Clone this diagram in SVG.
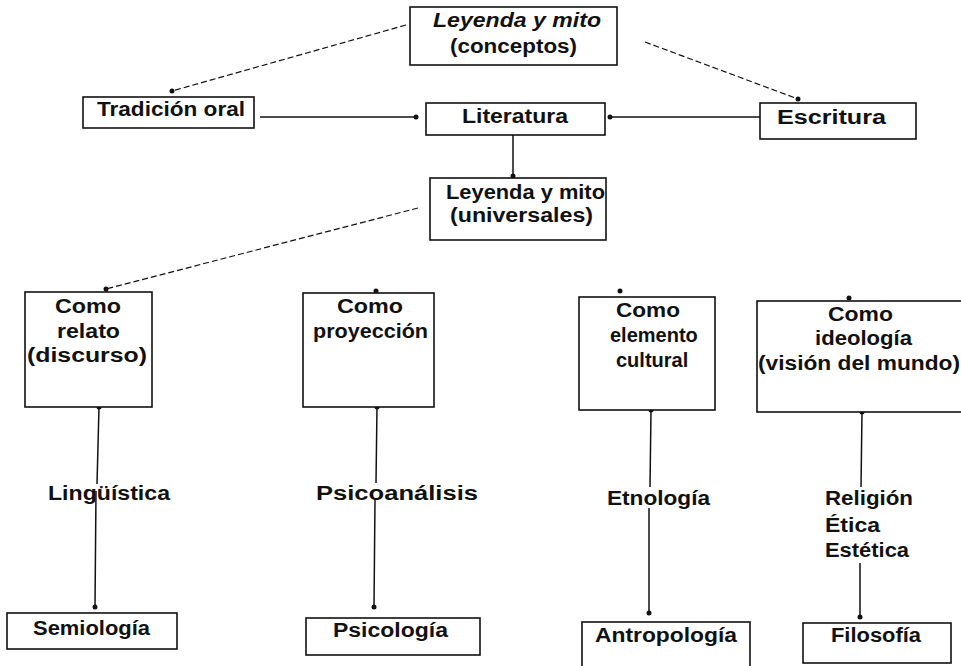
<svg xmlns="http://www.w3.org/2000/svg" width="961" height="666" viewBox="0 0 961 666">
<style>
.box{fill:#fff;stroke:#111;stroke-width:1.6}
.t{font-family:"Liberation Sans",Arial,sans-serif;font-weight:bold;font-size:20px;fill:#111}
.it{font-style:italic}
.sol{stroke:#111;stroke-width:1.5;fill:none}
.dash{stroke:#111;stroke-width:1.2;fill:none;stroke-dasharray:6 3}
.dot{fill:#111}
</style>
<rect width="961" height="666" fill="#fff"/>
<g id="connectors">
<path class="dash" d="M406,25 L172,91"/>
<path class="dash" d="M645,42 L798,99"/>
<path class="sol" d="M260,117 L416,117"/>
<path class="sol" d="M760,117 L610,117"/>
<path class="sol" d="M513,135 L513,176"/>
<path class="dash" d="M418,208 L106,289"/>
<path class="sol" d="M99,407 L97,484 M96,491 L95,607"/>
<path class="sol" d="M377,407 L376,483 M375,500 L374,607"/>
<path class="sol" d="M651,410 L650,487 M649,508 L649,613"/>
<path class="sol" d="M862,412 L861,487 M860,563 L860,617"/>
<circle class="dot" cx="172" cy="91" r="2.5"/>
<circle class="dot" cx="798" cy="99" r="2.5"/>
<circle class="dot" cx="416" cy="117" r="2.5"/>
<circle class="dot" cx="610" cy="117" r="2.5"/>
<circle class="dot" cx="513" cy="176" r="2.5"/>
<circle class="dot" cx="106" cy="289" r="2.5"/>
<circle class="dot" cx="376" cy="291" r="2.5"/>
<circle class="dot" cx="620" cy="291" r="2.5"/>
<circle class="dot" cx="849" cy="298" r="2.5"/>
<circle class="dot" cx="99" cy="407" r="2.5"/>
<circle class="dot" cx="377" cy="407" r="2.5"/>
<circle class="dot" cx="651" cy="410" r="2.5"/>
<circle class="dot" cx="862" cy="412" r="2.5"/>
<circle class="dot" cx="95" cy="607" r="2.5"/>
<circle class="dot" cx="374" cy="607" r="2.5"/>
<circle class="dot" cx="649" cy="613" r="2.5"/>
<circle class="dot" cx="860" cy="617" r="2.5"/>
</g>
<g id="n-conceptos">
<rect class="box" x="410" y="7" width="207" height="58"/>
<text class="t it" x="433" y="27" textLength="168" lengthAdjust="spacingAndGlyphs">Leyenda y mito</text>
<text class="t" x="450" y="53" textLength="127" lengthAdjust="spacingAndGlyphs">(conceptos)</text>
</g>
<g id="n-tradicion">
<rect class="box" x="83" y="97" width="171" height="31"/>
<text class="t" x="97" y="116" textLength="148" lengthAdjust="spacingAndGlyphs">Tradición oral</text>
</g>
<g id="n-literatura">
<rect class="box" x="426" y="103" width="179" height="32"/>
<text class="t" x="462" y="123" textLength="106" lengthAdjust="spacingAndGlyphs">Literatura</text>
</g>
<g id="n-escritura">
<rect class="box" x="760" y="103" width="156" height="36"/>
<text class="t" x="777" y="124" textLength="109" lengthAdjust="spacingAndGlyphs">Escritura</text>
</g>
<g id="n-universales">
<rect class="box" x="430" y="178" width="176" height="62"/>
<text class="t" x="446" y="199" textLength="159" lengthAdjust="spacingAndGlyphs">Leyenda y mito</text>
<text class="t" x="450" y="222" textLength="143" lengthAdjust="spacingAndGlyphs">(universales)</text>
</g>
<g id="n-relato">
<rect class="box" x="25" y="292" width="127" height="115"/>
<text class="t" x="55" y="313" textLength="66" lengthAdjust="spacingAndGlyphs">Como</text>
<text class="t" x="57" y="338" textLength="63" lengthAdjust="spacingAndGlyphs">relato</text>
<text class="t" x="27" y="362" textLength="120" lengthAdjust="spacingAndGlyphs">(discurso)</text>
</g>
<g id="n-proyeccion">
<rect class="box" x="303" y="293" width="131" height="114"/>
<text class="t" x="337" y="313" textLength="66" lengthAdjust="spacingAndGlyphs">Como</text>
<text class="t" x="313" y="338" textLength="115" lengthAdjust="spacingAndGlyphs">proyección</text>
</g>
<g id="n-cultural">
<rect class="box" x="579" y="297" width="136" height="113"/>
<text class="t" x="616" y="317" textLength="64" lengthAdjust="spacingAndGlyphs">Como</text>
<text class="t" x="610" y="342">elemento</text>
<text class="t" x="616" y="367">cultural</text>
</g>
<g id="n-ideologia">
<rect class="box" x="757" y="301" width="210" height="111"/>
<text class="t" x="828" y="321" textLength="65" lengthAdjust="spacingAndGlyphs">Como</text>
<text class="t" x="815" y="345" textLength="97" lengthAdjust="spacingAndGlyphs">ideología</text>
<text class="t" x="758" y="370" textLength="202" lengthAdjust="spacingAndGlyphs">(visión del mundo)</text>
</g>
<g id="l-linguistica">
<text class="t" x="48" y="500" textLength="122" lengthAdjust="spacingAndGlyphs">Lingüística</text>
</g>
<g id="l-psicoanalisis">
<text class="t" x="316" y="500" textLength="162" lengthAdjust="spacingAndGlyphs">Psicoanálisis</text>
</g>
<g id="l-etnologia">
<text class="t" x="607" y="505" textLength="103" lengthAdjust="spacingAndGlyphs">Etnología</text>
</g>
<g id="l-religion">
<text class="t" x="825" y="505" textLength="88" lengthAdjust="spacingAndGlyphs">Religión</text>
<text class="t" x="825" y="532" textLength="55" lengthAdjust="spacingAndGlyphs">Ética</text>
<text class="t" x="825" y="557" textLength="84" lengthAdjust="spacingAndGlyphs">Estética</text>
</g>
<g id="n-semiologia">
<rect class="box" x="7" y="613" width="170" height="36"/>
<text class="t" x="33" y="635" textLength="117" lengthAdjust="spacingAndGlyphs">Semiología</text>
</g>
<g id="n-psicologia">
<rect class="box" x="306" y="618" width="174" height="37"/>
<text class="t" x="333" y="637" textLength="115" lengthAdjust="spacingAndGlyphs">Psicología</text>
</g>
<g id="n-antropologia">
<rect class="box" x="582" y="622" width="168" height="50"/>
<text class="t" x="595" y="642" textLength="142" lengthAdjust="spacingAndGlyphs">Antropología</text>
</g>
<g id="n-filosofia">
<rect class="box" x="803" y="623" width="148" height="40"/>
<text class="t" x="831" y="642" textLength="90" lengthAdjust="spacingAndGlyphs">Filosofía</text>
</g>
</svg>
